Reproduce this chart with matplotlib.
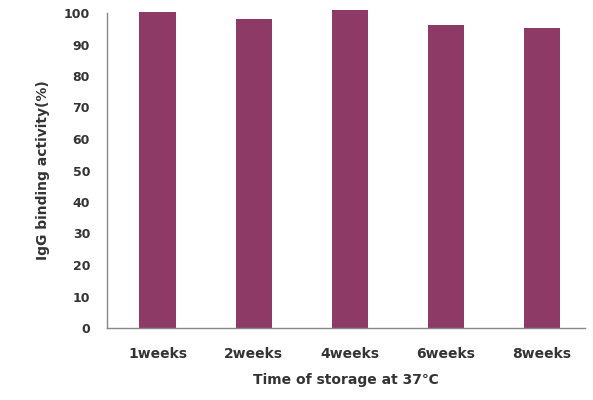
import matplotlib.pyplot as plt

categories = ["1weeks", "2weeks", "4weeks", "6weeks", "8weeks"]
activity = [100.3, 98.0, 101.0, 96.2, 95.2]

fig = plt.figure(figsize=(5.93, 4.0), dpi=100)
ax = fig.add_axes([0.180, 0.18, 0.807, 0.7875])

bars = ax.bar(range(len(categories)), activity, width=0.38, color="#8E3A67")
for b in bars:
    b.set_clip_on(False)

ax.set_xlim(-0.53, 4.45)
ax.set_ylim(0, 100)
ax.set_yticks(range(0, 101, 10))
ax.set_xticks(range(len(categories)))
ax.set_xticklabels(categories, fontsize=10, fontweight="bold")
for lbl in ax.get_yticklabels():
    lbl.set_fontweight("bold")
    lbl.set_fontsize(9)
ax.tick_params(axis="x", length=0, pad=14, colors="#333333")
ax.tick_params(axis="y", direction="in", length=4, colors="#333333", left=False, right=False)
ax.yaxis.set_tick_params(pad=12)

for s in ["top", "right"]:
    ax.spines[s].set_visible(False)
for s in ["left", "bottom"]:
    ax.spines[s].set_color("#888888")
    ax.spines[s].set_linewidth(1.0)

ax.set_ylabel("IgG binding activity(%)", fontsize=10, fontweight="bold", color="#333333", labelpad=10)
ax.set_xlabel("Time of storage at 37\u2103", fontsize=10, fontweight="bold", color="#333333", labelpad=8)

fig.savefig("out.png", dpi=100)
